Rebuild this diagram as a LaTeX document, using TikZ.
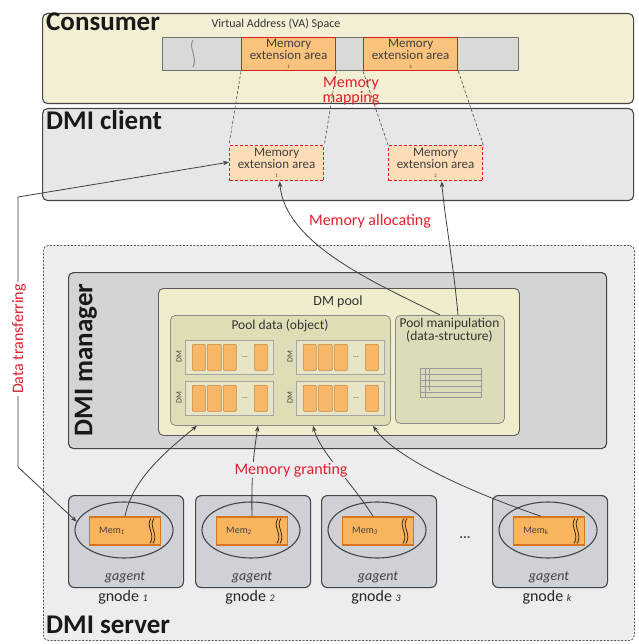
\documentclass[tikz,border=0pt]{standalone}
\usepackage{fontspec}
\setmainfont{Carlito}
\usetikzlibrary{arrows.meta,shapes.geometric,calc}
\definecolor{consumerfill}{HTML}{F3EFD4}
\definecolor{vafill}{HTML}{D9D9D5}
\definecolor{meafill}{HTML}{F9C27D}
\definecolor{cmeafill}{HTML}{FCDDB8}
\definecolor{redc}{HTML}{E2191F}
\definecolor{lblred}{HTML}{E0202E}
\definecolor{clientfill}{HTML}{E7E7EA}
\definecolor{serverfill}{HTML}{EDEDEF}
\definecolor{managerfill}{HTML}{D3D4D8}
\definecolor{poolfill}{HTML}{EFEDCC}
\definecolor{pooldatafill}{HTML}{DFDDB5}
\definecolor{manipfill}{HTML}{DDDCB8}
\definecolor{rowfill}{HTML}{E7E5C6}
\definecolor{cellfill}{HTML}{F8B766}
\definecolor{celledge}{HTML}{C88A3C}
\definecolor{gnodefill}{HTML}{CED1D6}
\definecolor{memfill}{HTML}{F9B55E}
\definecolor{memedge}{HTML}{D8741C}
\definecolor{edge}{HTML}{454545}
\tikzset{
  bigbox/.style={draw=edge, line width=1.1pt, rounded corners=5pt, inner sep=0pt, anchor=north west},
  title/.style={font=\fontsize{27}{27}\selectfont\bfseries, inner sep=0pt, text=black!90},
  meabox/.style={draw=redc, line width=1.3pt, fill=meafill, inner sep=0pt, anchor=north west,
     align=center, font=\fontsize{13}{11}\selectfont, text=black!75},
  cmeabox/.style={meabox, fill=cmeafill, dashed, dash pattern=on 3pt off 2pt},
  redlbl/.style={text=lblred, font=\fontsize{16}{15}\selectfont, inner sep=1pt},
  mapline/.style={draw=black!70, line width=0.6pt, dash pattern=on 3pt off 2pt},
  arr/.style={draw=black!75, line width=0.8pt, -{Stealth[length=6pt,width=4.5pt]}},
  cellbox/.style={fill=cellfill, draw=celledge, line width=0.6pt, rounded corners=1pt},
  gnodebox/.style={draw=edge, line width=1.1pt, rounded corners=6pt, fill=gnodefill, inner sep=0pt,
     anchor=north west, minimum width=115pt, minimum height=92pt},
  gell/.style={ellipse, draw=edge, line width=1.1pt, minimum width=98pt, minimum height=56pt, inner sep=0pt},
  membox/.style={fill=memfill, draw=memedge, line width=1.5pt, minimum width=71pt, minimum height=28pt, inner sep=0pt},
}
\begin{document}
\begin{tikzpicture}[x=1pt,y=-1pt]
\useasboundingbox (0,0) rectangle (638,644);
\fill[white] (0,0) rectangle (638,644);

% ---------------- Consumer ----------------
\node[bigbox, fill=consumerfill, minimum width=591pt, minimum height=90pt] (consumer) at (42,13) {};
\node[title, anchor=base west] (consumerlbl) at (46,31) {Consumer};
\node[font=\fontsize{12}{12}\selectfont, anchor=base, inner sep=0pt, text=black!80] (vatitle) at (276,28) {Virtual Address (VA) Space};
\node[draw=black!55, line width=0.7pt, fill=vafill, minimum width=356pt, minimum height=33pt, inner sep=0pt, anchor=north west] (vabar) at (162,37) {};
\draw[black!45, line width=1pt] (193,40) .. controls (188,48) and (198,57) .. (193,67);
\node[meabox, minimum width=94pt, minimum height=33pt] (vamea1) at (241,37) {Memory\\extension area\\[-2pt]{\fontsize{5}{5}\selectfont 1}};
\node[meabox, minimum width=94pt, minimum height=33pt] (vamea2) at (363,37) {Memory\\extension area\\[-2pt]{\fontsize{5}{5}\selectfont 2}};

% ---------------- DMI client ----------------
\node[bigbox, fill=clientfill, minimum width=591pt, minimum height=92pt] (client) at (42,108) {};
\node[title, anchor=base west] (clientlbl) at (46,130) {DMI client};
\node[cmeabox, minimum width=94pt, minimum height=35pt] (cmea1) at (229,145) {Memory\\extension area\\[-2pt]{\fontsize{5}{5}\selectfont 1}};
\node[cmeabox, minimum width=94pt, minimum height=35pt] (cmea2) at (388,145) {Memory\\extension area\\[-2pt]{\fontsize{5}{5}\selectfont 2}};

% mapping lines
\draw[mapline] (vamea1.south west) -- (cmea1.north west);
\draw[mapline] (vamea1.south east) -- (cmea1.north east);
\draw[mapline] (vamea2.south west) -- (cmea2.north west);
\draw[mapline] (vamea2.south east) -- (cmea2.north east);
\node[redlbl, align=center] (maplbl) at (351,91) {Memory\\mapping};

\node[redlbl, anchor=base] (alloclbl) at (370,225) {Memory allocating};

% ---------------- DMI server ----------------
\node[bigbox, fill=serverfill, draw=black!65, line width=0.8pt, dash pattern=on 2pt off 1.5pt, minimum width=591pt, minimum height=395pt] (server) at (43,245) {};
\node[title, anchor=base west] (serverlbl) at (46,633) {DMI server};

% DMI manager
\node[bigbox, fill=managerfill, minimum width=538pt, minimum height=176pt] (manager) at (68,272) {};
\node[title, rotate=90] (managerlbl) at (86,360) {DMI manager};

% DM pool
\node[bigbox, fill=poolfill, draw=black!65, line width=0.9pt, minimum width=361pt, minimum height=147pt] (pool) at (158,288) {};
\node[font=\fontsize{14}{14}\selectfont, anchor=base, inner sep=0pt, text=black!80] (poollbl) at (338,305) {DM pool};

% Pool data
\node[bigbox, fill=pooldatafill, draw=black!45, line width=0.8pt, minimum width=220pt, minimum height=110pt] (pooldata) at (170,315) {};
\node[font=\fontsize{13.5}{13.5}\selectfont, anchor=base, inner sep=0pt, text=black!80] (pooldatalbl) at (280,329) {Pool data (object)};

\foreach \nm/\cx/\cy in {dma/185/340, dmb/296/340, dmc/185/381, dmd/296/381} {
  \node[fill=rowfill, draw=black!35, line width=0.5pt, minimum width=88pt, minimum height=34pt, inner sep=0pt, anchor=north west] (\nm) at (\cx,\cy) {};
  \node[rotate=90, font=\fontsize{8}{8}\selectfont, inner sep=0pt, text=black!75] (\nm lbl) at (\cx-6,\cy+17) {DM};
  \foreach \ox/\cw in {7/13, 22/14, 38/13, 69/13} {
    \node[cellbox, minimum width=\cw pt, minimum height=26pt, inner sep=0pt, anchor=north west] (\nm c\ox) at (\cx+\ox,\cy+4) {};
  }
  \node[font=\fontsize{7}{7}\selectfont\bfseries, inner sep=0pt, text=black!60] (\nm dots) at (\cx+60,\cy+17) {...};
}

% Pool manipulation
\node[bigbox, fill=manipfill, draw=black!45, line width=0.8pt, minimum width=109pt, minimum height=108pt] (manip) at (395,315) {};
\node[font=\fontsize{13.5}{13}\selectfont, align=center, anchor=north, inner sep=0pt, text=black!80] (maniplbl) at (449.5,318) {Pool manipulation\\(data-structure)};
\node[draw=black!40, line width=0.6pt, minimum width=61pt, minimum height=29pt, inner sep=0pt, anchor=north west] (table) at (420,368) {};
\foreach \yy in {374,380,386,392} { \draw[black!40, line width=0.5pt] (420,\yy) -- (481,\yy); }
\draw[black!40, line width=0.5pt] (425,368) -- (425,397);
\draw[black!40, line width=0.5pt] (429,368) -- (429,391);

% ---------------- gnodes ----------------
\foreach \i/\gx/\sub in {1/68/1, 2/195/2, 3/321/3, 4/492/k} {
  \node[gnodebox] (gn\i) at (\gx,495) {};
  \node[gell] (el\i) at (\gx+56,530) {};
  \node[membox] (mem\i) at (\gx+57,531) {};
  \node[font=\fontsize{10}{10}\selectfont, inner sep=0pt, text=black!75] (memlbl\i) at (\gx+44,531) {Mem\textsubscript{\itshape\sub}};
  \draw[black!60!brown, line width=0.9pt] (\gx+83,518.5) .. controls (\gx+77,526) and (\gx+88,534) .. (\gx+82,543.5);
  \draw[black!60!brown, line width=0.9pt] (\gx+86,518.5) .. controls (\gx+80,526) and (\gx+91,534) .. (\gx+85,543.5);
  \node[font=\fontsize{14}{14}\selectfont\itshape, anchor=base, inner sep=0pt, text=black!75] (ga\i) at (\gx+57,580) {gagent};
  \node[font=\fontsize{16}{16}\selectfont, anchor=base, inner sep=0pt, text=black!85] (gl\i) at (\gx+55,601) {gnode {\fontsize{10}{10}\selectfont\itshape \sub}};
}
\node[font=\fontsize{14}{14}\selectfont\bfseries, inner sep=0pt, text=black!70] (gdots) at (465,538) {...};

% ---------------- connectors ----------------
% memory granting
\draw[arr] (mem1.north) .. controls (132,480) and (165,452) .. ([xshift=27pt]pooldata.south west);
\draw[arr] (mem2.north) .. controls (251,470) and (255,445) .. ([xshift=88pt]pooldata.south west);
\draw[arr] ([xshift=-5pt]mem3.north) .. controls (350,480) and (320,452) .. ([xshift=143pt]pooldata.south west);
\draw[arr] ([xshift=-8pt]mem4.north) .. controls (470,492) and (395,458) .. ([xshift=203pt]pooldata.south west);
\node[redlbl, fill=serverfill] (grantlbl) at (291,470) {Memory granting};

% memory allocating
\draw[arr] ([xshift=45pt]manip.north west) .. controls (380,285) and (285,245) .. ([xshift=3pt]cmea1.south);
\draw[arr] ([xshift=63pt]manip.north west) .. controls (453,260) and (445,220) .. ([xshift=6pt]cmea2.south);

% data transferring
\coordinate (dtb) at (18,467);
\coordinate (dtt) at (18,197);
\draw[arr, {Stealth[length=6pt,width=4.5pt]}-{Stealth[length=6pt,width=4.5pt]}] (el1.170) -- (dtb) -- (dtt) -- ([yshift=1pt]cmea1.west);
\node[redlbl, rotate=90, fill=white, inner sep=2pt] (dtlbl) at (19,339) {Data transferring};
\end{tikzpicture}
\end{document}
